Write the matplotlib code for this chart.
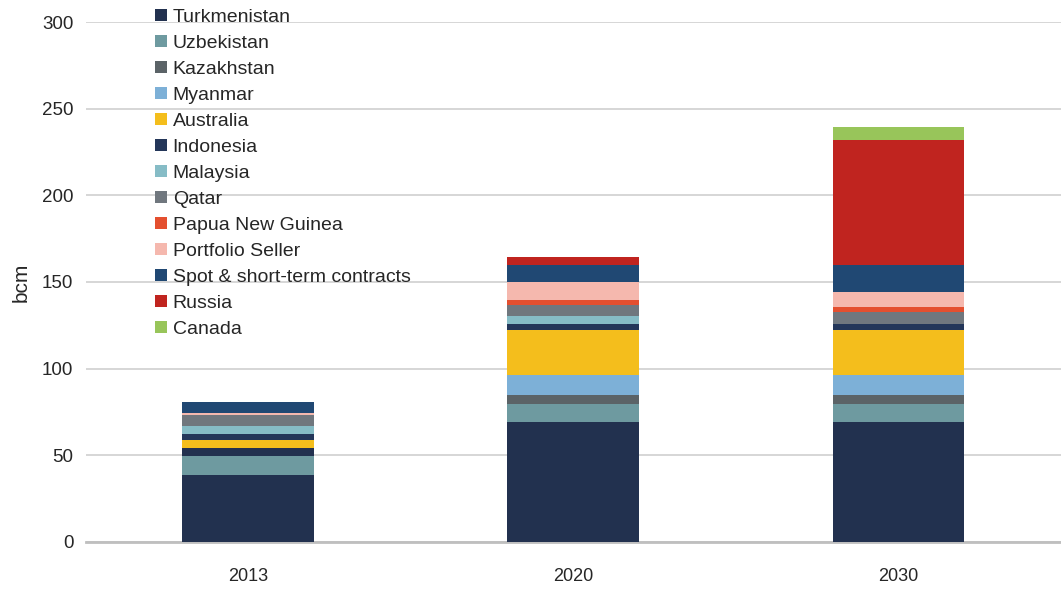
import matplotlib.pyplot as plt
from matplotlib.patches import Patch
import numpy as np

plt.rcParams['font.family'] = ['Liberation Sans', 'DejaVu Sans']

years = ["2013", "2020", "2030"]

# supply by source, bcm (bottom of the stack first)
turkmenistan = [38.7, 69.2, 69.2]
uzbekistan = [10.9, 10.4, 10.4]
kazakhstan = [0.0, 5.2, 5.2]
myanmar = [4.6, 11.5, 11.5]
australia = [4.6, 25.9, 25.9]
indonesia = [3.6, 3.5, 3.5]
malaysia = [4.4, 4.6, 0.0]
qatar = [6.4, 6.3, 6.9]
png = [0.0, 2.9, 2.9]
portfolio = [1.2, 10.4, 8.7]
spot = [6.4, 9.8, 15.5]
russia = [0.0, 4.8, 72.2]
canada = [0.0, 0.0, 7.6]

series = [
    ("Turkmenistan", turkmenistan, "#22314f"),
    ("Uzbekistan", uzbekistan, "#6e9aa0"),
    ("Kazakhstan", kazakhstan, "#5b6367"),
    ("Myanmar", myanmar, "#7db0d7"),
    ("Australia", australia, "#f4be1c"),
    ("Indonesia", indonesia, "#233659"),
    ("Malaysia", malaysia, "#86bcc6"),
    ("Qatar", qatar, "#70777e"),
    ("Papua New Guinea", png, "#e44f2f"),
    ("Portfolio Seller", portfolio, "#f5b8ae"),
    ("Spot & short-term contracts", spot, "#204873"),
    ("Russia", russia, "#c0241f"),
    ("Canada", canada, "#98c55a"),
]
# the 2013 Myanmar block is shaded dark in the source chart
color_override = {("Myanmar", 0): "#22314f"}

fig = plt.figure(figsize=(10.61, 5.9), dpi=100)
ax = fig.add_axes([0.081, 0.0814, 0.919, 0.8813])

x = np.arange(len(years))
bottom = np.zeros(len(years))
handles = []
for name, vals, col in series:
    vals = np.array(vals)
    cols = [color_override.get((name, i), col) for i in range(len(years))]
    ax.bar(x, vals, 0.406, bottom=bottom, color=cols, linewidth=0, zorder=3)
    bottom += vals
    handles.append(Patch(facecolor=col, edgecolor='none', label=name))

ax.set_xlim(-0.5, 2.5)
ax.set_ylim(0, 300)
ax.set_yticks(range(0, 301, 50))
ax.set_xticks(x)
ax.set_xticklabels(years)
ax.yaxis.grid(True, color="#d0d0d0", linewidth=1.2, zorder=0)
ax.set_axisbelow(True)
for s in ["top", "right", "left"]:
    ax.spines[s].set_visible(False)
ax.spines["bottom"].set_color("#bfbfbf")
ax.spines["bottom"].set_linewidth(2)
ax.tick_params(length=0, colors="#262626")
ax.tick_params(axis='y', pad=9, labelsize=13.5)
ax.tick_params(axis='x', pad=19, labelsize=13)
ax.set_ylabel("bcm", fontsize=15, color="#262626", labelpad=8)

leg = ax.legend(handles=handles, loc="upper left", bbox_to_anchor=(0.0708, 1.025),
                frameon=False, fontsize=14, handlelength=0.6, handleheight=0.6,
                handletextpad=0.31, labelspacing=0.46, borderpad=0, borderaxespad=0)
for t in leg.get_texts():
    t.set_color("#262626")

fig.savefig("out.png", dpi=100, facecolor="white")
